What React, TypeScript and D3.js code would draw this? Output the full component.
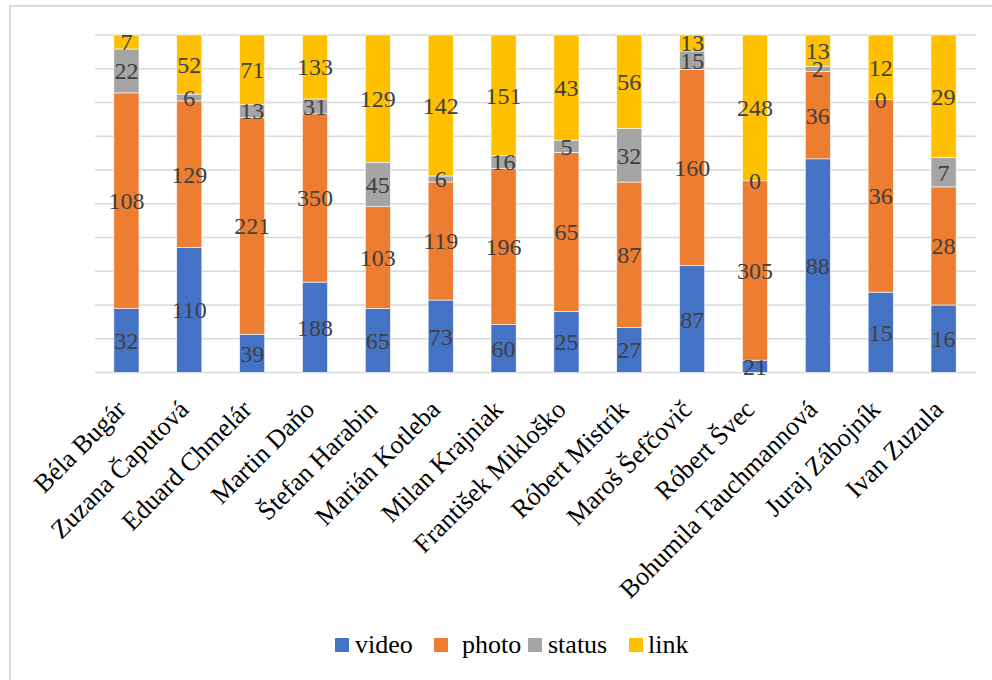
import React from 'react';
import * as d3 from 'd3';

const candidates = [
  'Béla Bugár', 'Zuzana Čaputová', 'Eduard Chmelár', 'Martin Daňo', 'Štefan Harabin',
  'Marián Kotleba', 'Milan Krajniak', 'František Mikloško', 'Róbert Mistrík',
  'Maroš Šefčovič', 'Róbert Švec', 'Bohumila Tauchmannová', 'Juraj Zábojník', 'Ivan Zuzula',
];
const video = [32, 110, 39, 188, 65, 73, 60, 25, 27, 87, 21, 88, 15, 16];
const photo = [108, 129, 221, 350, 103, 119, 196, 65, 87, 160, 305, 36, 36, 28];
const status = [22, 6, 13, 31, 45, 6, 16, 5, 32, 15, 0, 2, 0, 7];
const link = [7, 52, 71, 133, 129, 142, 151, 43, 56, 13, 248, 13, 12, 29];

const seriesNames = ['video', 'photo', 'status', 'link'];
const colors = ['#4472C4', '#ED7D31', '#A5A5A5', '#FFC000'];

const font = "'Liberation Serif', 'Times New Roman', serif";

const rows = candidates.map((name, i) => ({
  name, video: video[i], photo: photo[i], status: status[i], link: link[i],
}));
const stacked = d3.stack<any>().keys(seriesNames).offset(d3.stackOffsetExpand)(rows);

const x = d3.scaleBand().domain(candidates).range([95, 975]).paddingInner(0.6).paddingOuter(0.3);
const y = d3.scaleLinear().domain([0, 1]).range([372.5, 35]);

// legend placement
const legendX = [335, 434, 528, 629];
const legendTextX = [355, 462, 548, 648];

function App() {
  return (
    <svg width={992} height={680} style={{ position: 'absolute', left: 0, top: 0, background: 'white' }}>
      {/* chart frame */}
      <rect x={10} y={6} width={1000} height={700} fill="white" stroke="#d9d9d9" strokeWidth={2} />

      {/* gridlines */}
      <g>
        {y.ticks(10).map(t => (
          <line key={t} x1={95} x2={976} y1={y(t)} y2={y(t)} stroke="#d9d9d9" strokeWidth={1.5} />
        ))}
      </g>

      {/* bars */}
      {stacked.map((s, i) => (
        <g key={s.key} fill={colors[i]}>
          {s.map(d => (
            <rect key={d.data.name} x={x(d.data.name)} width={x.bandwidth()}
              y={y(d[1])} height={y(d[0]) - y(d[1])} stroke="white" strokeWidth={0.6} />
          ))}
        </g>
      ))}

      {/* data labels */}
      {stacked.map(s => (
        <g key={s.key} textAnchor="middle" fill="#404040" style={{ fontFamily: font, fontSize: '24px' }}>
          {s.map(d => (
            <text key={d.data.name} x={x(d.data.name)! + x.bandwidth() / 2}
              y={(y(d[0]) + y(d[1])) / 2} dy="0.35em">
              {d.data[s.key]}
            </text>
          ))}
        </g>
      ))}

      {/* category labels */}
      <g textAnchor="end" fill="#000" style={{ fontFamily: font, fontSize: '26px' }}>
        {candidates.map(c => (
          <text key={c} transform={`translate(${x(c)! + x.bandwidth() / 2 + 1},411) rotate(-45)`}>{c}</text>
        ))}
      </g>

      {/* legend */}
      <g style={{ fontFamily: font, fontSize: '26px' }}>
        {seriesNames.map((name, i) => (
          <g key={name}>
            <rect x={legendX[i]} y={638} width={14} height={14} fill={colors[i]} />
            <text x={legendTextX[i]} y={653} fill="#000">{name}</text>
          </g>
        ))}
      </g>
    </svg>
  );
}

export default App;
